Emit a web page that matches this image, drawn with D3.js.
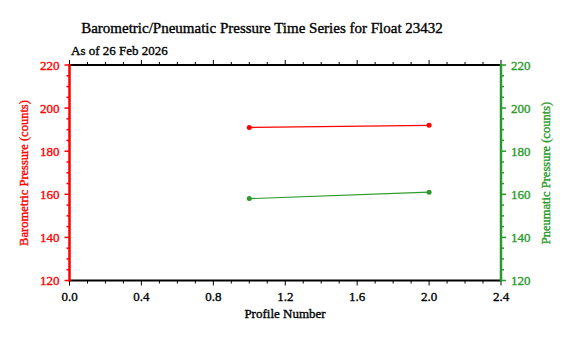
<!DOCTYPE html>
<html><head><meta charset="utf-8">
<script src="https://cdn.jsdelivr.net/npm/d3@7"></script>
<style>body{margin:0;background:#fff}svg{display:block}text{font-family:"Liberation Serif","Times New Roman",serif;stroke-width:0.35px;paint-order:stroke}</style>
</head><body><svg id="c" width="570" height="338"></svg>
<script>
const profiles = [1, 2];
const barometric = [191, 192];
const pneumatic = [158, 161];
const xTicks = [0.0, 0.4, 0.8, 1.2, 1.6, 2.0, 2.4];
const yTicks = [120, 140, 160, 180, 200, 220];
const title = "Barometric/Pneumatic Pressure Time Series for Float 23432";
const subtitle = "As of 26 Feb 2026";

const RED = "#ff0000", GREEN = "#2a9a2a";
const svg = d3.select("#c");
const L = 69.5, R = 501, T = 65, B = 280.5;
const x = d3.scaleLinear().domain([0, 2.4]).range([L, R]);
const yL = d3.scaleLinear().domain([120, 220]).range([B, T]);
const yR = d3.scaleLinear().domain([120, 220]).range([B, T]);

svg.append("text").attr("x", 262).attr("y", 33).attr("text-anchor", "middle")
  .attr("font-size", 15).attr("stroke", "#000").text(title);
svg.append("text").attr("x", 71).attr("y", 55).attr("font-size", 13).attr("stroke", "#000").text(subtitle);

// x axes (top and bottom)
const xMinor = d3.range(0, 24.01, 1).map(d => d / 10);
function xAxisG(yPos, dir) {
  const g = svg.append("g");
  g.append("line").attr("x1", L).attr("x2", R).attr("y1", yPos).attr("y2", yPos)
    .attr("stroke", "#000").attr("stroke-width", 2);
  xMinor.forEach(v => {
    const major = xTicks.some(t => Math.abs(t - v) < 1e-6);
    g.append("line").attr("x1", x(v)).attr("x2", x(v)).attr("y1", yPos)
      .attr("y2", yPos + dir * (major ? 5 : 3)).attr("stroke", "#000").attr("stroke-width", 1);
  });
  return g;
}
xAxisG(T, -1);
const gb = xAxisG(B, 1);
xTicks.forEach(v => {
  gb.append("text").attr("x", x(v)).attr("y", 301).attr("text-anchor", "middle")
    .attr("font-size", 13).attr("stroke", "#000").text(v.toFixed(1));
});
svg.append("text").attr("x", 285).attr("y", 318).attr("text-anchor", "middle")
  .attr("font-size", 13).attr("stroke", "#000").text("Profile Number");

// y axes
const yMinor = d3.range(120, 220.1, 5);
function yAxisG(xPos, dir, color, scale) {
  const g = svg.append("g");
  yMinor.forEach(v => {
    const major = yTicks.includes(v);
    g.append("line").attr("x1", xPos).attr("x2", xPos + dir * (major ? 5 : 3))
      .attr("y1", scale(v)).attr("y2", scale(v)).attr("stroke", color).attr("stroke-width", 1.5);
  });
  g.append("line").attr("x1", xPos).attr("x2", xPos).attr("y1", T - 1).attr("y2", B + 1)
    .attr("stroke", color).attr("stroke-width", 2.5);
  yTicks.forEach(v => {
    g.append("text").attr("x", xPos + dir * 10).attr("y", scale(v) + 4.5)
      .attr("text-anchor", dir < 0 ? "end" : "start").attr("font-size", 13)
      .attr("fill", color).attr("stroke", color).text(v);
  });
}
yAxisG(L, -1, RED, yL);
yAxisG(R, 1, GREEN, yR);

svg.append("text").attr("transform", "translate(28,173) rotate(-90)")
  .attr("text-anchor", "middle").attr("font-size", 12.5).attr("fill", RED).attr("stroke", RED)
  .text("Barometric Pressure (counts)");
svg.append("text").attr("transform", "translate(550,173) rotate(-90)")
  .attr("text-anchor", "middle").attr("font-size", 12.5).attr("fill", GREEN).attr("stroke", GREEN)
  .text("Pneumatic Pressure (counts)");

// data
const bData = profiles.map((p, i) => [p, barometric[i]]);
const pData = profiles.map((p, i) => [p, pneumatic[i]]);
svg.append("path").datum(bData).attr("fill", "none").attr("stroke", RED).attr("stroke-width", 1.3)
  .attr("d", d3.line().x(d => x(d[0])).y(d => yL(d[1])));
svg.append("path").datum(pData).attr("fill", "none").attr("stroke", GREEN).attr("stroke-width", 1.1)
  .attr("d", d3.line().x(d => x(d[0])).y(d => yR(d[1])));
svg.selectAll(".bp").data(bData).enter().append("circle")
  .attr("cx", d => x(d[0])).attr("cy", d => yL(d[1])).attr("r", 2.5).attr("fill", RED);
svg.selectAll(".pp").data(pData).enter().append("circle")
  .attr("cx", d => x(d[0])).attr("cy", d => yR(d[1])).attr("r", 2.5).attr("fill", GREEN);
</script></body></html>
